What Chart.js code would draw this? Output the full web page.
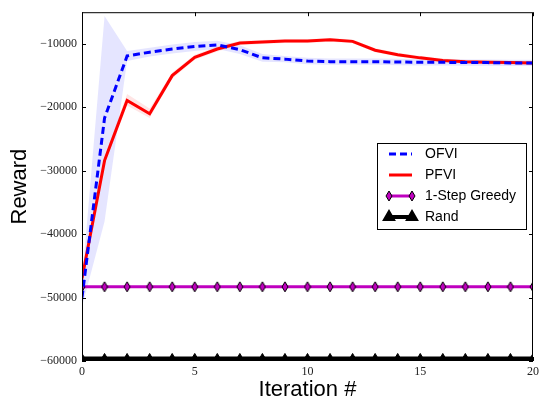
<!DOCTYPE html>
<html>
<head>
<meta charset="utf-8">
<title>Reward vs iteration</title>
<script src="https://cdn.jsdelivr.net/npm/chart.js@4.4.0/dist/chart.umd.min.js"></script>
<style>
  html, body { margin: 0; padding: 0; background: #fff; }
  #chart { display: block; }
</style>
</head>
<body>
<canvas id="chart" width="541" height="404"></canvas>
<script>
const iterations = [0, 1, 2, 3, 4, 5, 6, 7, 8, 9, 10, 11, 12, 13, 14, 15, 16, 17, 18, 19, 20];

const ofvi = [-50000, -21700, -11900, -11300, -10800, -10400, -10150, -10900, -12200, -12400, -12700,
  -12800, -12800, -12800, -12850, -12900, -12900, -12950, -12950, -13000, -13000];
const ofviHigh = [-47500, -5600, -11100, -10600, -10100, -9700, -9500, -10200, -11600, -11900, -12200,
  -12300, -12300, -12300, -12350, -12400, -12400, -12450, -12450, -12500, -12500];
const ofviLow = [-51500, -38000, -12700, -12000, -11500, -11100, -10800, -11600, -12800, -12900, -13200,
  -13300, -13300, -13300, -13350, -13400, -13400, -13450, -13450, -13500, -13500];

const pfvi = [-47000, -28400, -18900, -21000, -15000, -12100, -10800, -9850, -9700, -9550, -9550,
  -9350, -9600, -11000, -11700, -12200, -12600, -12800, -12900, -12950, -13000];
const pfviHigh = [-46500, -27800, -17900, -20200, -14500, -11700, -10400, -9500, -9400, -9250, -9250,
  -9050, -9300, -10700, -11400, -11900, -12300, -12500, -12600, -12700, -12750];
const pfviLow = [-47500, -29000, -19700, -21700, -15500, -12500, -11200, -10200, -10000, -9850, -9850,
  -9650, -9900, -11300, -12000, -12500, -12900, -13100, -13200, -13200, -13250];

const greedy = [-48300, -48300, -48300, -48300, -48300, -48300, -48300, -48300, -48300, -48300, -48300,
  -48300, -48300, -48300, -48300, -48300, -48300, -48300, -48300, -48300, -48300];
const rand = [-59600, -59600, -59600, -59600, -59600, -59600, -59600, -59600, -59600, -59600, -59600,
  -59600, -59600, -59600, -59600, -59600, -59600, -59600, -59600, -59600, -59600];

const xTicks = [0, 5, 10, 15, 20];
const yTicks = [-60000, -50000, -40000, -30000, -20000, -10000];

const BLUE = '#0000ff';
const RED = '#ff0000';
const MAGENTA = '#bf00bf';

function points(values) {
  return iterations.map((x, i) => ({ x: x, y: values[i] }));
}

// thin diamond marker, like matplotlib's 'd'
function diamondMarker(w, h) {
  const c = document.createElement('canvas');
  c.width = w + 2;
  c.height = h + 2;
  const g = c.getContext('2d');
  g.beginPath();
  g.moveTo(c.width / 2, 1);
  g.lineTo(c.width - 1, c.height / 2);
  g.lineTo(c.width / 2, c.height - 1);
  g.lineTo(1, c.height / 2);
  g.closePath();
  g.fillStyle = MAGENTA;
  g.fill();
  g.strokeStyle = '#000';
  g.lineWidth = 1;
  g.stroke();
  return c;
}
const diamond = diamondMarker(6, 10);

function band(values, color, order) {
  return {
    label: '_band',
    data: points(values),
    borderWidth: 0,
    pointRadius: 0,
    backgroundColor: color,
    fill: false,
    order: order,
    clip: 0
  };
}

const datasets = [
  {
    label: 'OFVI',
    data: points(ofvi),
    borderColor: BLUE,
    borderWidth: 3,
    borderDash: [7, 4],
    pointRadius: 0,
    fill: false,
    order: 1,
    clip: 0
  },
  {
    label: 'PFVI',
    data: points(pfvi),
    borderColor: RED,
    borderWidth: 3,
    pointRadius: 0,
    fill: false,
    order: 2,
    clip: 0
  },
  {
    label: '1-Step Greedy',
    data: points(greedy),
    borderColor: MAGENTA,
    borderWidth: 3,
    pointStyle: diamond,
    pointRadius: 5,
    fill: false,
    order: 3,
    clip: 0
  },
  {
    label: 'Rand',
    data: points(rand),
    borderColor: '#000',
    backgroundColor: '#000',
    borderWidth: 4,
    pointStyle: 'triangle',
    pointRadius: 5,
    pointBorderWidth: 1,
    fill: false,
    order: 4,
    clip: 0
  },
  band(ofviHigh, 'rgba(0,0,255,0.1)', 20),
  Object.assign(band(ofviLow, 'rgba(0,0,255,0.1)', 20), { fill: '-1' }),
  band(pfviHigh, 'rgba(255,0,0,0.1)', 21),
  Object.assign(band(pfviLow, 'rgba(255,0,0,0.1)', 21), { fill: '-1' })
];

// box around the axes with inward ticks on all four sides
const framePlugin = {
  id: 'frame',
  afterDatasetsDraw(chart) {
    const { ctx, chartArea: a, scales } = chart;
    const len = 4;
    ctx.save();
    ctx.strokeStyle = '#000';
    ctx.lineWidth = 1;
    ctx.strokeRect(a.left + 0.5, a.top + 0.5, a.right - a.left - 1, a.bottom - a.top - 1);
    ctx.beginPath();
    xTicks.forEach(v => {
      const px = Math.round(scales.x.getPixelForValue(v)) + 0.5;
      ctx.moveTo(px, a.bottom);
      ctx.lineTo(px, a.bottom - len);
      ctx.moveTo(px, a.top);
      ctx.lineTo(px, a.top + len);
    });
    yTicks.forEach(v => {
      const py = Math.round(scales.y.getPixelForValue(v)) + 0.5;
      ctx.moveTo(a.left, py);
      ctx.lineTo(a.left + len, py);
      ctx.moveTo(a.right, py);
      ctx.lineTo(a.right - len, py);
    });
    ctx.stroke();
    ctx.restore();
  }
};

// legend box drawn inside the plot area
const legendPlugin = {
  id: 'insideLegend',
  afterDraw(chart) {
    const { ctx } = chart;
    const box = { x: 377, y: 143, w: 149, h: 86 };
    const rowY = [154, 175, 196, 217];
    const x0 = 389, x1 = 412;
    ctx.save();
    ctx.fillStyle = '#fff';
    ctx.fillRect(box.x, box.y, box.w, box.h);
    ctx.strokeStyle = '#000';
    ctx.lineWidth = 1;
    ctx.strokeRect(box.x + 0.5, box.y + 0.5, box.w, box.h);

    const lines = datasets.slice(0, 4);
    lines.forEach((ds, i) => {
      const y = rowY[i];
      ctx.beginPath();
      ctx.strokeStyle = ds.borderColor;
      ctx.lineWidth = ds.borderWidth;
      ctx.setLineDash(ds.borderDash || []);
      ctx.moveTo(x0, y);
      ctx.lineTo(x1, y);
      ctx.stroke();
      ctx.setLineDash([]);
      if (ds.pointRadius > 0) {
        [x0, x1].forEach(px => {
          ctx.fillStyle = '#000';
          ctx.strokeStyle = '#000';
          Chart.helpers.drawPoint(ctx, {
            pointStyle: ds.pointStyle,
            radius: Math.min(ds.pointRadius, 4),
            borderWidth: 1,
            rotation: 0
          }, px, y);
        });
      }
      ctx.fillStyle = '#000';
      ctx.font = '14px "Liberation Sans", Arial, sans-serif';
      ctx.textBaseline = 'middle';
      ctx.textAlign = 'left';
      ctx.fillText(ds.label, 425, y);
    });
    ctx.restore();
  }
};

const tickFont = { family: '"Liberation Serif", "DejaVu Serif", serif', size: 12 };
const titleFont = { family: '"Liberation Sans", Arial, sans-serif', size: 22 };

new Chart(document.getElementById('chart'), {
  type: 'line',
  data: { datasets: datasets },
  plugins: [framePlugin, legendPlugin],
  options: {
    responsive: false,
    animation: false,
    devicePixelRatio: 1,
    layout: { padding: { top: 12, right: 7, left: 0, bottom: 0 } },
    plugins: {
      legend: { display: false },
      tooltip: { enabled: false }
    },
    elements: { line: { tension: 0 } },
    scales: {
      x: {
        type: 'linear',
        min: 0,
        max: 20,
        afterBuildTicks: s => { s.ticks = xTicks.map(v => ({ value: v })); },
        afterFit: s => {
          s.height = 43;
          s.paddingLeft = 0;
          s.paddingRight = 0;
        },
        grid: { display: false, drawTicks: false },
        border: { display: false },
        ticks: { font: tickFont, color: '#222', padding: 4, maxRotation: 0 },
        title: { display: true, text: 'Iteration #', font: titleFont, color: '#000', padding: { top: 0, bottom: 1 } }
      },
      y: {
        type: 'linear',
        min: -60000,
        max: -5000,
        afterBuildTicks: s => { s.ticks = yTicks.map(v => ({ value: v })); },
        afterFit: s => { s.width = 82; },
        grid: { display: false, drawTicks: false },
        border: { display: false },
        ticks: {
          font: tickFont,
          color: '#222',
          padding: 5,
          callback: v => (v < 0 ? '\u2212' + Math.abs(v) : String(v))
        },
        title: { display: true, text: 'Reward', font: titleFont, color: '#000', padding: { top: 7, bottom: 0 } }
      }
    }
  }
});
</script>
</body>
</html>
